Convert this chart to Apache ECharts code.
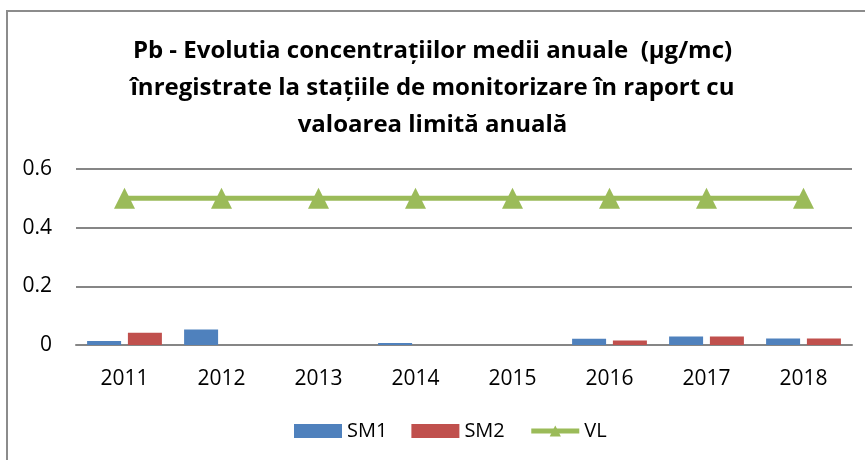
<!DOCTYPE html>
<html>
<head>
<meta charset="utf-8">
<script src="https://cdn.jsdelivr.net/npm/echarts@6/dist/echarts.min.js"></script>
<style>
  html, body { margin: 0; padding: 0; background: #fff; }
  #chart { width: 865px; height: 460px; }
</style>
</head>
<body>
<div id="chart"></div>
<script>
// ani si valori
const years = ["2011", "2012", "2013", "2014", "2015", "2016", "2017", "2018"];
const sm1 = [0.014, 0.053, null, 0.007, null, 0.021, 0.029, 0.022];
const sm2 = [0.042, null, null, null, null, 0.015, 0.029, 0.022];
const vl = [0.5, 0.5, 0.5, 0.5, 0.5, 0.5, 0.5, 0.5];
const yTicks = [0, 0.2, 0.4, 0.6];

const font = "'Open Sans', sans-serif";

const chart = echarts.init(document.getElementById("chart"));
chart.setOption({
  animation: false,
  title: {
    text: "Pb - Evolutia concentrațiilor medii anuale  (µg/mc)\nînregistrate la stațiile de monitorizare în raport cu\nvaloarea limită anuală",
    left: "center",
    top: 28,
    textStyle: {
      fontFamily: font,
      fontSize: 24,
      fontWeight: "bold",
      color: "#000",
      lineHeight: 37
    }
  },
  graphic: [
    {
      type: "rect",
      shape: { x: 7, y: 11, width: 900, height: 500 },
      style: { fill: "none", stroke: "#8c8c8c", lineWidth: 2 },
      silent: true
    }
  ],
  legend: {
    bottom: 14,
    left: 289,
    itemWidth: 48,
    itemHeight: 14,
    itemGap: 24,
    textStyle: { fontFamily: font, fontSize: 20, color: "#000" },
    data: [
      { name: "SM1", icon: "rect" },
      { name: "SM2", icon: "rect" },
      { name: "VL", lineStyle: { width: 5 } }
    ]
  },
  grid: { left: 76, right: 13, top: 169, bottom: 115 },
  xAxis: {
    type: "category",
    data: years,
    axisLine: { lineStyle: { color: "#868686", width: 2 } },
    axisTick: { show: false },
    axisLabel: { fontFamily: font, fontSize: 21, color: "#000", margin: 24 }
  },
  yAxis: {
    type: "value",
    min: yTicks[0],
    max: yTicks[yTicks.length - 1],
    interval: 0.2,
    axisLine: { show: false },
    axisTick: { show: false },
    splitLine: { lineStyle: { color: "#868686", width: 2 } },
    axisLabel: { fontFamily: font, fontSize: 21, color: "#000", margin: 24 }
  },
  series: [
    {
      name: "SM1",
      type: "bar",
      data: sm1,
      barWidth: 34,
      barGap: "20%",
      itemStyle: { color: "#4F81BD" }
    },
    {
      name: "SM2",
      type: "bar",
      data: sm2,
      barWidth: 34,
      barGap: "20%",
      itemStyle: { color: "#C0504D" }
    },
    {
      name: "VL",
      type: "line",
      data: vl,
      symbol: "triangle",
      symbolSize: 21,
      lineStyle: { color: "#9BBB59", width: 5 },
      itemStyle: { color: "#9BBB59" }
    }
  ]
});
</script>
</body>
</html>
